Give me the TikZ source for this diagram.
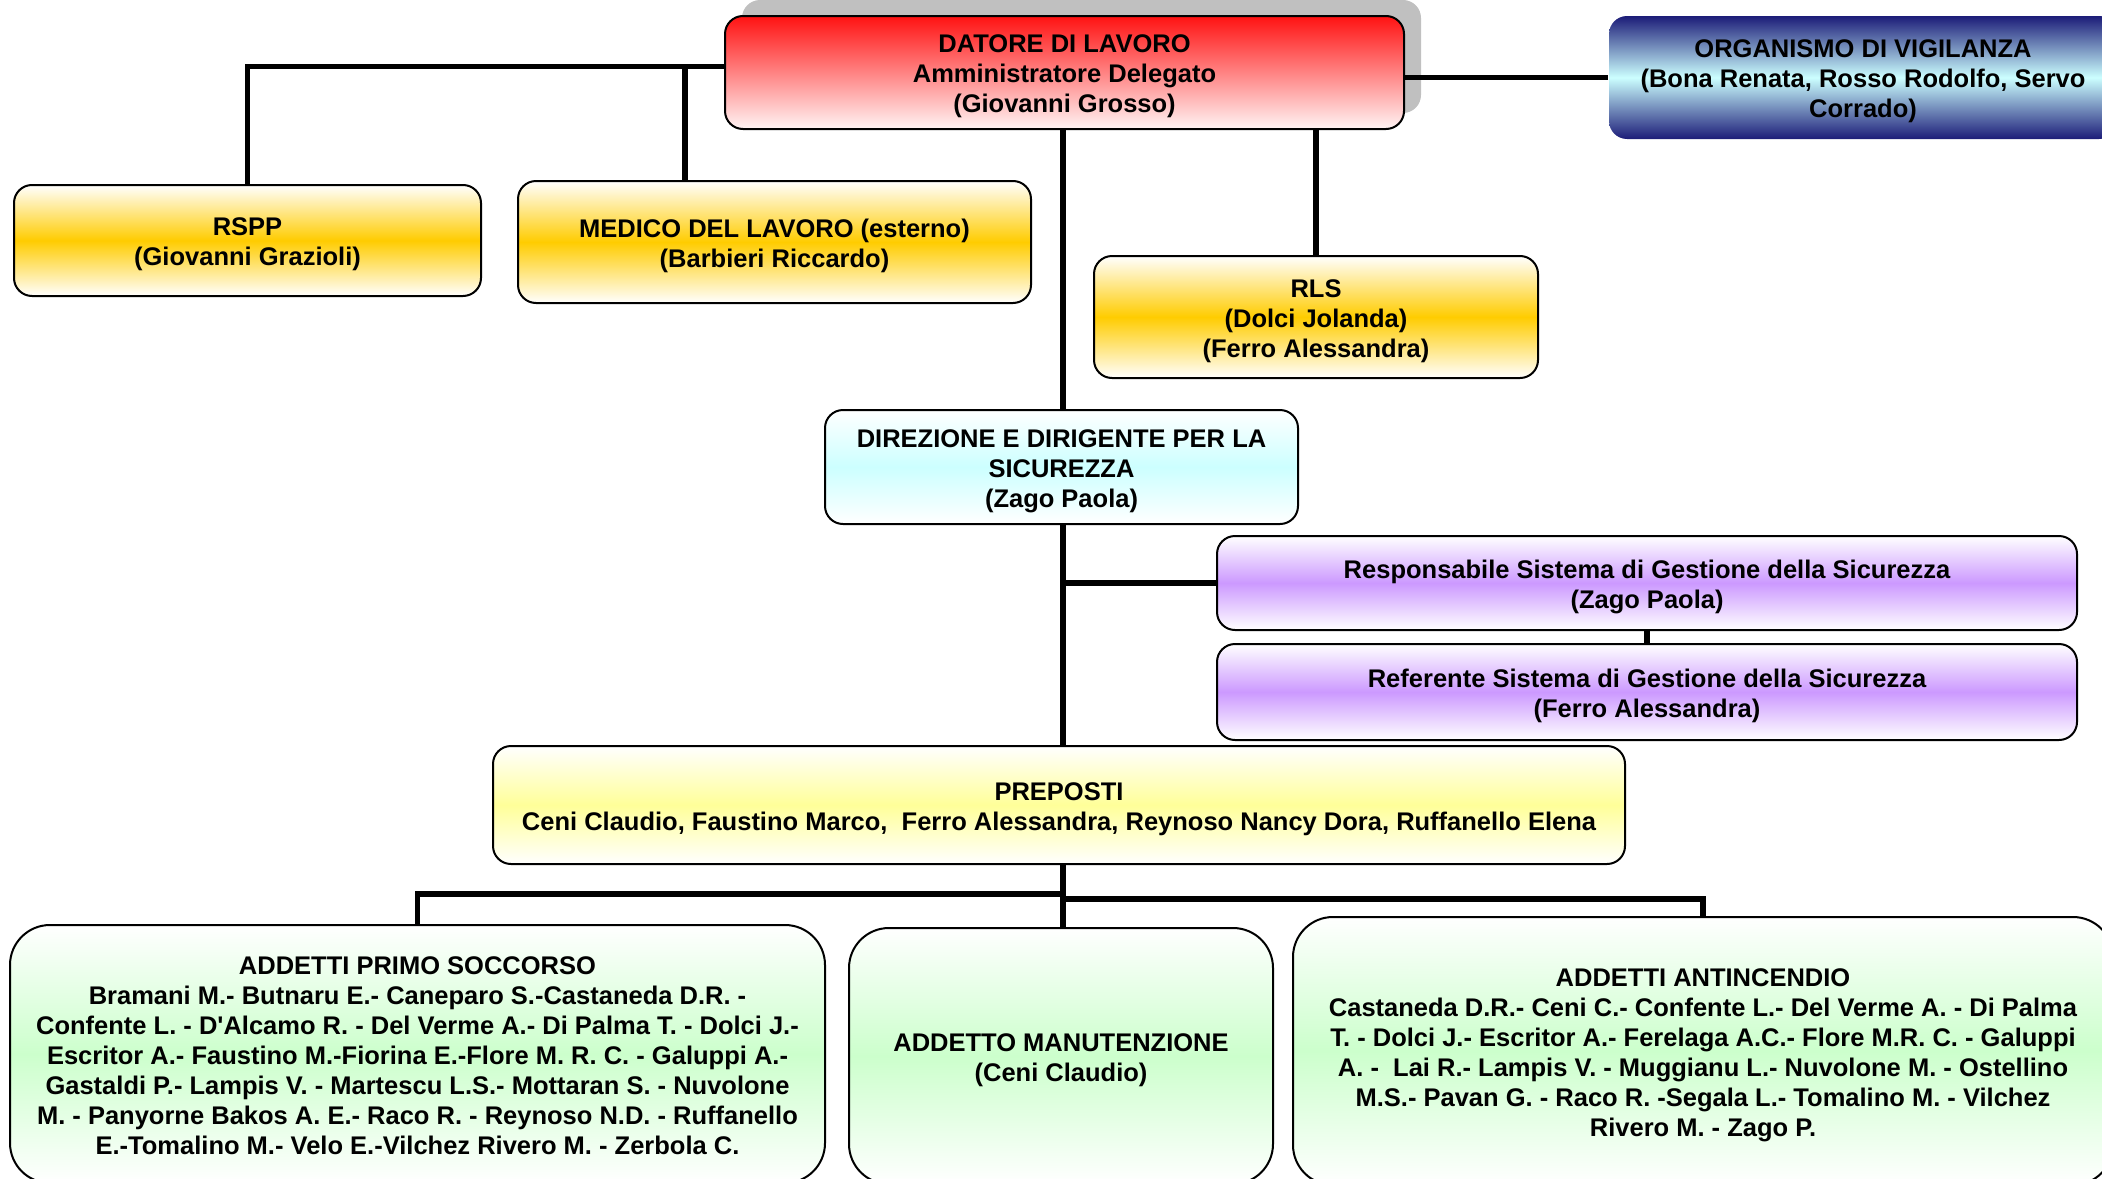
\documentclass[tikz,border=0pt]{standalone}
\usepackage{fontspec}
\setmainfont{Liberation Sans}
\usetikzlibrary{shadows}
\definecolor{datred}{RGB}{255,18,18}
\definecolor{datpink}{RGB}{255,244,244}
\definecolor{odvnavy}{RGB}{28,28,120}
\definecolor{odvcyan}{RGB}{204,255,255}
\definecolor{rspgold}{RGB}{255,204,0}
\definecolor{dircyan}{RGB}{204,255,255}
\definecolor{sgslilac}{RGB}{204,153,255}
\definecolor{prepyellow}{RGB}{255,255,153}
\definecolor{addgreen}{RGB}{204,255,204}
\definecolor{shadowgray}{RGB}{192,192,192}
% struts so the text sits a bit low in its box
\newcommand{\sttop}{\rule{0pt}{13pt}}
\newcommand{\stbot}{\rule[-3pt]{0pt}{3pt}}

\begin{document}
\begin{tikzpicture}[x=0.5pt, y=0.5pt]
\tikzstyle{every node}+=[inner sep=0pt, align=center, font=\bfseries\fontsize{12.75}{15}\selectfont]
\tikzstyle{box}=[draw=black, line width=1pt, rounded corners=9pt]
\tikzstyle{bigbox}=[draw=black, line width=1pt, rounded corners=20pt]
\tikzstyle{conn}=[black, line width=2.75pt]
\tikzstyle{redbox}=[box, top color=datred, bottom color=datpink,
  drop shadow={shadow xshift=8.5pt, shadow yshift=8pt, fill=shadowgray, opacity=1}]
\tikzstyle{navybox}=[box, draw=none, top color=odvnavy, bottom color=odvnavy, middle color=odvcyan]
\tikzstyle{goldbox}=[box, top color=white, bottom color=white, middle color=rspgold]
\tikzstyle{cyanbox}=[box, top color=white, bottom color=white, middle color=dircyan]
\tikzstyle{lilacbox}=[box, top color=white, bottom color=white, middle color=sgslilac]
\tikzstyle{yellowbox}=[box, top color=white, bottom color=white, middle color=prepyellow]
\tikzstyle{greenbox}=[bigbox, top color=white, bottom color=white, middle color=addgreen]
\path[use as bounding box, clip] (0,0) rectangle (2102,-1178);

% top level
\node[redbox, minimum width=339.5pt, minimum height=56.5pt] (datore) at (1064.5,-72.5)
  {\sttop DATORE DI LAVORO\\Amministratore Delegato\\(Giovanni Grosso)\stbot};
\node[navybox, minimum width=254pt, minimum height=61.5pt] (odv) at (1863,-77.5)
  {\sttop ORGANISMO DI VIGILANZA\\(Bona Renata, Rosso Rodolfo, Servo\\Corrado)\stbot};

% staff
\node[goldbox, minimum width=233.5pt, minimum height=55.5pt] (rspp) at (247.5,-240.5)
  {\sttop RSPP\\(Giovanni Grazioli)\stbot};
\node[goldbox, minimum width=256.5pt, minimum height=61pt] (medico) at (774.5,-242)
  {\sttop MEDICO DEL LAVORO (esterno)\\(Barbieri Riccardo)\stbot};
\node[goldbox, minimum width=222pt, minimum height=61pt] (rls) at (1316,-317)
  {\sttop RLS\\(Dolci Jolanda)\\(Ferro Alessandra)\stbot};

% direzione
\node[cyanbox, minimum width=236.5pt, minimum height=57pt] (direzione) at (1061.5,-467)
  {\sttop DIREZIONE E DIRIGENTE PER LA\\SICUREZZA\\(Zago Paola)\stbot};
\node[lilacbox, minimum width=430pt, minimum height=47pt] (rsgs) at (1647,-583)
  {\sttop Responsabile Sistema di Gestione della Sicurezza\\(Zago Paola)\stbot};
\node[lilacbox, minimum width=430pt, minimum height=48pt] (refsgs) at (1647,-692)
  {\sttop Referente Sistema di Gestione della Sicurezza\\(Ferro Alessandra)\stbot};

% preposti
\node[yellowbox, minimum width=566pt, minimum height=59pt] (preposti) at (1059,-805)
  {\sttop PREPOSTI\\Ceni Claudio, Faustino Marco,\ \ Ferro Alessandra, Reynoso Nancy Dora, Ruffanello Elena\stbot};

% addetti
\node[greenbox, minimum width=407.5pt, minimum height=129pt] (soccorso) at (417.5,-1054)
  {\sttop ADDETTI PRIMO SOCCORSO\\
   Bramani M.- Butnaru E.- Caneparo S.-Castaneda D.R. -\\
   Confente L. - D\textquotesingle Alcamo R. - Del Verme A.- Di Palma T. - Dolci J.-\\
   Escritor A.- Faustino M.-Fiorina E.-Flore M. R. C. - Galuppi A.-\\
   Gastaldi P.- Lampis V. - Martescu L.S.- Mottaran S. - Nuvolone\\
   M. - Panyorne Bakos A. E.- Raco R. - Reynoso N.D. - Ruffanello\\
   E.-Tomalino M.- Velo E.-Vilchez Rivero M. - Zerbola C.\stbot};
\node[greenbox, minimum width=212pt, minimum height=128pt] (manutenzione) at (1061,-1056)
  {\sttop ADDETTO MANUTENZIONE\\(Ceni Claudio)\stbot};
\node[greenbox, minimum width=410pt, minimum height=134pt] (antincendio) at (1703,-1051)
  {\sttop ADDETTI ANTINCENDIO\\
   Castaneda D.R.- Ceni C.- Confente L.- Del Verme A. - Di Palma\\
   T. - Dolci J.- Escritor A.- Ferelaga A.C.- Flore M.R. C. - Galuppi\\
   A. -\ \ Lai R.- Lampis V. - Muggianu L.- Nuvolone M. - Ostellino\\
   M.S.- Pavan G. - Raco R. -Segala L.- Tomalino M. - Vilchez\\
   Rivero M. - Zago P.\stbot};

% connectors
\coordinate (medtop) at (685,-66.5);
\coordinate (spine) at (1063,0);
\coordinate (busL) at (0,-894);
\coordinate (busR) at (0,-899);
\draw[conn] (rspp.north) |- ([yshift=3pt]datore.west);
\draw[conn] (medico.north -| medtop) -- (medtop);
\draw[conn] (odv.west -| datore.east) -- (odv.west);
\draw[conn] (rls.north) -- (rls.north |- datore.south);
\draw[conn] (datore.south -| spine) -- (direzione.north -| spine);
\draw[conn] (direzione.south -| spine) -- (preposti.north -| spine);
\draw[conn] (rsgs.west) -- (rsgs.west -| spine);
\draw[conn] (rsgs.south) -- (refsgs.north);
\draw[conn] (preposti.south -| spine) -- (manutenzione.north -| spine);
\draw[conn] (soccorso.north) -- (soccorso.north |- busL) -- (busL -| spine);
\draw[conn] (antincendio.north) -- (antincendio.north |- busR) -- (busR -| spine);
\end{tikzpicture}
\end{document}
